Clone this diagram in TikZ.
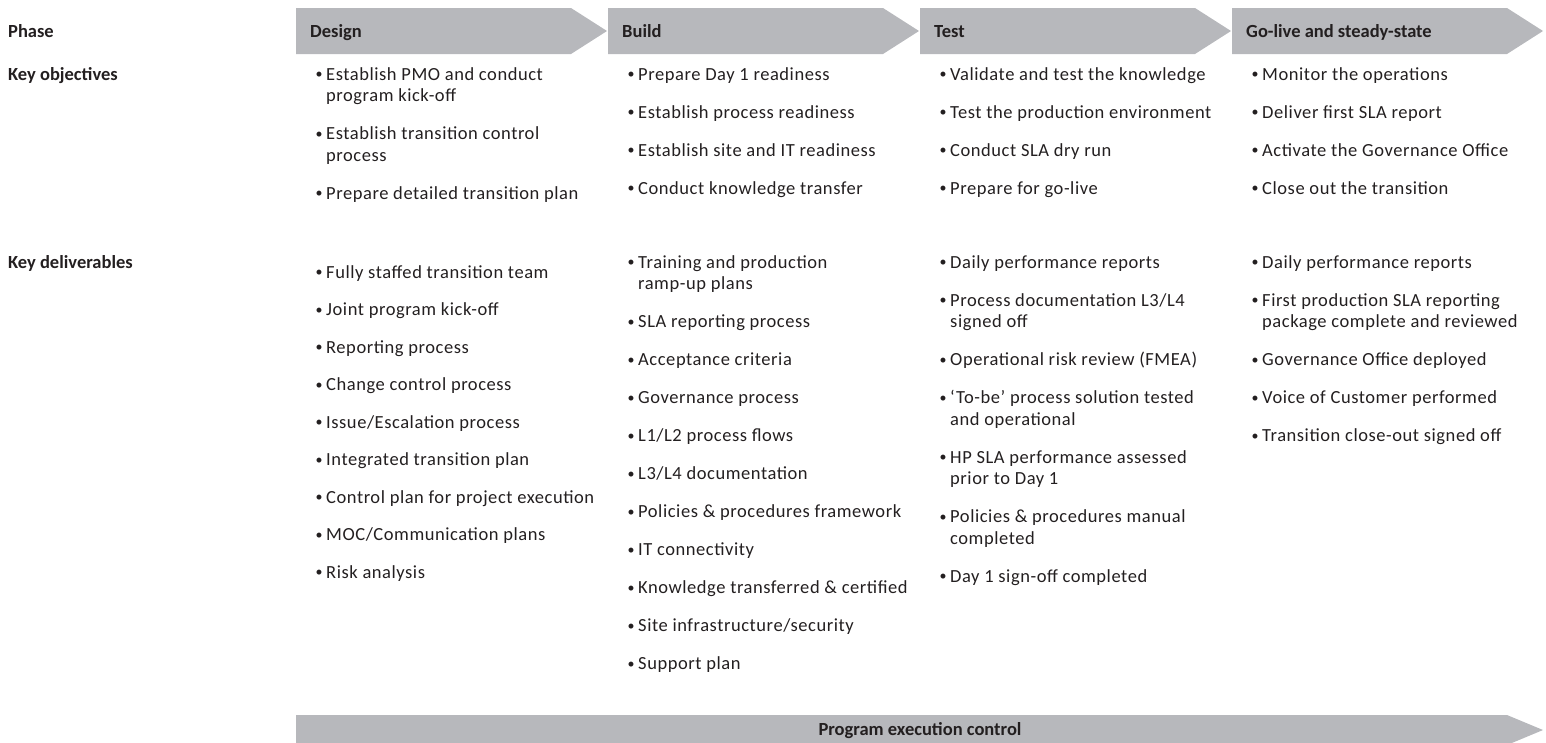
\documentclass[tikz,border=0pt]{standalone}
\usepackage{fontspec}
\setmainfont{Carlito}[LetterSpace=3]
\newfontfamily\headfont{Carlito}
\definecolor{barfill}{RGB}{183,184,188}
\definecolor{ink}{RGB}{35,31,32}
\newcommand\bodyfont{\fontsize{18.5}{21.5}\selectfont}
\newcommand\smallbullet{\hspace*{1.5pt}\raisebox{1.2pt}{\fontsize{14}{14}\selectfont\textbullet}}
% one bulleted entry: name, x, baseline y, lines (separated by \\)
\newcommand\bulletitem[4]{%
  \node[entry] (#1) at (#2,#3)
    {\makebox[12pt][l]{\smallbullet}\begin{tabular}[t]{@{}l@{}}#4\end{tabular}};}
\tikzset{
  entry/.style={anchor=base west, inner sep=0pt, font=\bodyfont, text=ink},
  rowlabel/.style={anchor=base west, inner sep=0pt, font=\headfont\bodyfont\bfseries, text=ink},
  phaselabel/.style={anchor=base west, inner sep=0pt, font=\headfont\bodyfont\bfseries, text=ink},
  barshape/.style={fill=barfill, draw=none}
}
\begin{document}
\begin{tikzpicture}[x=1pt,y=-1pt]
\useasboundingbox (0,0) rectangle (1546,742);
\clip (0,0) rectangle (1546,742);

% phase chevrons
\foreach \k in {0,1,2,3}{
  \fill[barshape] ({296+312*\k},8) -- ({571+312*\k},8) -- ({607+312*\k},31)
    -- ({571+312*\k},54) -- ({296+312*\k},54) -- cycle;
}
% program execution control bar
\fill[barshape] (296,715) -- (1507,715) -- (1543,730) -- (1507,745) -- (296,745) -- cycle;

% row labels
\node[rowlabel] (lab-phase) at (8,37) {Phase};
\node[rowlabel] (lab-obj) at (8,80) {Key objectives};
\node[rowlabel] (lab-del) at (8,268) {Key deliverables};

% phase names
\node[phaselabel] (ph-design) at (310,37) {Design};
\node[phaselabel] (ph-build) at (622,37) {Build};
\node[phaselabel] (ph-test) at (934,37) {Test};
\node[phaselabel] (ph-live) at (1246,37) {Go-live and steady-state};

\node[phaselabel, anchor=base] (ctrl) at (920,735) {Program execution control};

% Design
\bulletitem{dob1}{314}{80}{Establish PMO and conduct\\program kick-off}
\bulletitem{dob2}{314}{139.5}{Establish transition control\\process}
\bulletitem{dob3}{314}{199}{Prepare detailed transition plan}

\bulletitem{dde1}{314}{278}{Fully staffed transition team}
\bulletitem{dde2}{314}{315.5}{Joint program kick-off}
\bulletitem{dde3}{314}{353}{Reporting process}
\bulletitem{dde4}{314}{390.5}{Change control process}
\bulletitem{dde5}{314}{428}{Issue/Escalation process}
\bulletitem{dde6}{314}{465.5}{Integrated transition plan}
\bulletitem{dde7}{314}{503}{Control plan for project execution}
\bulletitem{dde8}{314}{540.5}{MOC/Communication plans}
\bulletitem{dde9}{314}{578}{Risk analysis}

% Build
\bulletitem{bob1}{626}{80}{Prepare Day 1 readiness}
\bulletitem{bob2}{626}{118}{Establish process readiness}
\bulletitem{bob3}{626}{156}{Establish site and IT readiness}
\bulletitem{bob4}{626}{194}{Conduct knowledge transfer}

\bulletitem{bde1}{626}{268}{Training and production\\ramp-up plans}
\bulletitem{bde2}{626}{327.5}{SLA reporting process}
\bulletitem{bde3}{626}{365.5}{Acceptance criteria}
\bulletitem{bde4}{626}{403.5}{Governance process}
\bulletitem{bde5}{626}{441.5}{L1/L2 process flows}
\bulletitem{bde6}{626}{479.5}{L3/L4 documentation}
\bulletitem{bde7}{626}{517.5}{Policies \& procedures framework}
\bulletitem{bde8}{626}{555.5}{IT connectivity}
\bulletitem{bde9}{626}{593.5}{Knowledge transferred \& certified}
\bulletitem{bde10}{626}{631.5}{Site infrastructure/security}
\bulletitem{bde11}{626}{669.5}{Support plan}

% Test
\bulletitem{tob1}{938}{80}{Validate and test the knowledge}
\bulletitem{tob2}{938}{118}{Test the production environment}
\bulletitem{tob3}{938}{156}{Conduct SLA dry run}
\bulletitem{tob4}{938}{194}{Prepare for go-live}

\bulletitem{tde1}{938}{268}{Daily performance reports}
\bulletitem{tde2}{938}{306}{Process documentation L3/L4\\signed off}
\bulletitem{tde3}{938}{365.5}{Operational risk review (FMEA)}
\bulletitem{tde4}{938}{403.5}{‘To-be’ process solution tested\\and operational}
\bulletitem{tde5}{938}{463}{HP SLA performance assessed\\prior to Day 1}
\bulletitem{tde6}{938}{522.5}{Policies \& procedures manual\\completed}
\bulletitem{tde7}{938}{582}{Day 1 sign-off completed}

% Go-live and steady-state
\bulletitem{gob1}{1250}{80}{Monitor the operations}
\bulletitem{gob2}{1250}{118}{Deliver first SLA report}
\bulletitem{gob3}{1250}{156}{Activate the Governance Office}
\bulletitem{gob4}{1250}{194}{Close out the transition}

\bulletitem{gde1}{1250}{268}{Daily performance reports}
\bulletitem{gde2}{1250}{306}{First production SLA reporting\\package complete and reviewed}
\bulletitem{gde3}{1250}{365.5}{Governance Office deployed}
\bulletitem{gde4}{1250}{403.5}{Voice of Customer performed}
\bulletitem{gde5}{1250}{441.5}{Transition close-out signed off}
\end{tikzpicture}
\end{document}
